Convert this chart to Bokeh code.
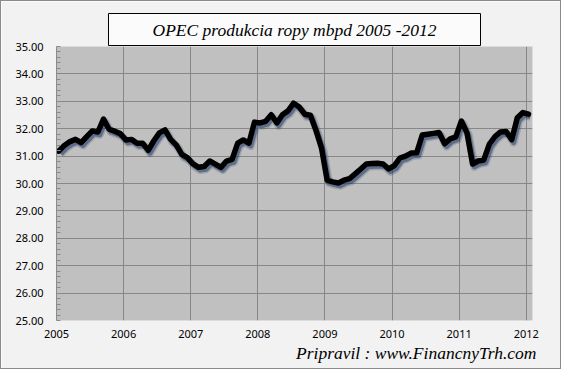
from bokeh.plotting import figure
from bokeh.models import Range1d, FixedTicker, Title, NumeralTickFormatter, ColumnDataSource
from bokeh.embed import file_html
from bokeh.resources import INLINE
import numpy as np

# ---- data (OPEC crude production, million barrels per day, monthly) ----
years = [2005, 2006, 2007, 2008, 2009, 2010, 2011, 2012]
y_ticks = [25.0, 26.0, 27.0, 28.0, 29.0, 30.0, 31.0, 32.0, 33.0, 34.0, 35.0]

prod_2005 = [31.18, 31.39, 31.53, 31.61, 31.49, 31.71, 31.92, 31.88, 32.35, 31.98, 31.91, 31.82]
prod_2006 = [31.59, 31.61, 31.47, 31.47, 31.21, 31.56, 31.85, 31.96, 31.61, 31.41, 31.06, 30.94]
prod_2007 = [30.72, 30.59, 30.62, 30.82, 30.71, 30.59, 30.82, 30.88, 31.47, 31.59, 31.47, 32.24]
prod_2008 = [32.21, 32.27, 32.51, 32.21, 32.51, 32.65, 32.93, 32.79, 32.53, 32.49, 31.94, 31.29]
prod_2009 = [30.12, 30.06, 30.02, 30.12, 30.18, 30.35, 30.53, 30.71, 30.73, 30.74, 30.71, 30.53]
prod_2010 = [30.65, 30.93, 31.00, 31.11, 31.12, 31.77, 31.80, 31.83, 31.86, 31.45, 31.63, 31.70]
prod_2011 = [32.28, 31.85, 30.71, 30.82, 30.86, 31.44, 31.71, 31.88, 31.90, 31.60, 32.40, 32.59]
prod_2012 = [32.53]

production = prod_2005 + prod_2006 + prod_2007 + prod_2008 + prod_2009 + prod_2010 + prod_2011 + prod_2012
# position of each monthly observation on a decimal-year axis
month_x = [years[0] + (i + 0.4) / 12 for i in range(len(production))]

title_text = "OPEC produkcia ropy mbpd 2005 -2012"
credit_text = "Pripravil : www.FinancnyTrh.com"

# ---- figure ----
p = figure(width=561, height=369, output_backend="svg", toolbar_location=None,
           x_range=Range1d(2005, 2012.093), y_range=Range1d(25, 35),
           min_border_left=55, min_border_right=30, min_border_top=45, min_border_bottom=50)
p.title.visible = False
p.background_fill_color = "#c0c0c0"
p.border_fill_color = "#f2f2f2"
p.outline_line_color = None
p.styles = {"border": "1px solid #8a8a8a"}

# axes
p.xaxis.ticker = FixedTicker(ticks=years)
p.yaxis.ticker = FixedTicker(ticks=y_ticks, minor_ticks=list(np.round(np.arange(25, 35.001, 0.2), 2)))
p.yaxis.formatter = NumeralTickFormatter(format="0.00")
for ax in (p.xaxis[0], p.yaxis[0]):
    ax.axis_line_color = "#8a8a8a"
    ax.major_tick_in = 0
    ax.major_tick_out = 0
    ax.major_label_text_font = "Noto Sans"
    ax.major_label_text_font_size = "11px"
    ax.major_label_text_color = "#000000"
p.xaxis.minor_tick_line_color = None
p.xaxis.axis_line_color = None
p.xaxis.major_label_standoff = 9
p.yaxis.major_label_standoff = 13
p.yaxis.minor_tick_in = 4
p.yaxis.minor_tick_out = 0
p.yaxis.minor_tick_line_color = "#8a8a8a"

p.xgrid.grid_line_color = "#878787"
p.ygrid.grid_line_color = "#878787"

# line with a soft navy shadow
src = ColumnDataSource(dict(x=month_x, y=production,
                            xs=[v + 0.028 for v in month_x], ys=[v - 0.10 for v in production]))
p.line("xs", "ys", source=src, line_width=8, line_color="#1f3864", line_alpha=0.22, line_join="round")
p.line("xs", "ys", source=src, line_width=5, line_color="#1f3864", line_alpha=0.5, line_join="round")
p.line("x", "y", source=src, line_width=5.5, line_color="black", line_join="round", line_cap="round")

# boxed title above the plot
top_title = Title(text=title_text, align="center", offset=-6, standoff=2,
                  text_font="Liberation Serif", text_font_style="italic", text_font_size="17.5px",
                  text_color="#000000", background_fill_color="#fbfbfb",
                  border_line_color="#000000", border_line_width=1, padding=dict(x=44, y=6))
p.add_layout(top_title, "above")

credit = Title(text=credit_text, align="right", offset=-4, standoff=0,
               text_font="Liberation Serif", text_font_style="italic", text_font_size="17.5px",
               text_color="#000000")
p.add_layout(credit, "below")

open("out.html", "w").write(file_html(p, INLINE))
